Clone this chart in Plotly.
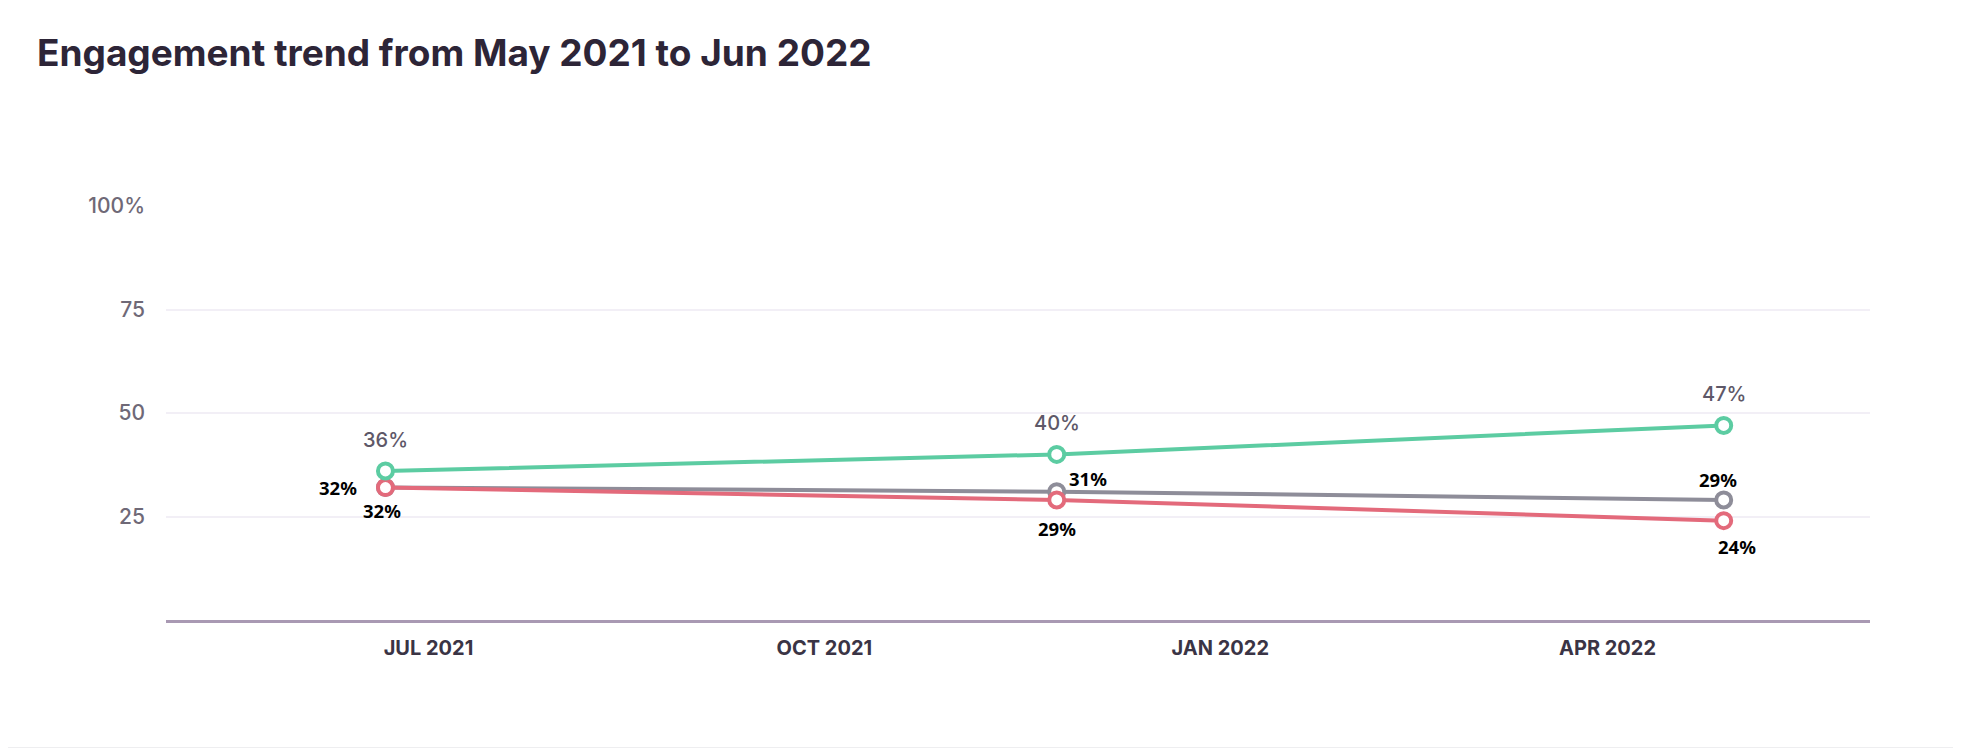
import plotly.graph_objects as go

# ---- data ----
dates = ["2021-06-21", "2021-11-24", "2022-04-28"]
green_vals = [36, 40, 47]
grey_vals = [32, 31, 29]
red_vals = [32, 29, 24]
y_tickvals = [25, 50, 75, 100]
y_ticktext = ["25", "50", "75", "100%"]
x_tickvals = ["2021-07-01", "2021-10-01", "2022-01-01", "2022-04-01"]
x_ticktext = ["JUL 2021", "OCT 2021", "JAN 2022", "APR 2022"]
title_text = "Engagement trend from May 2021 to Jun 2022"

# ---- style ----
# page body has an 8px margin, so the figure is sized to fit inside it
W, H = 1945, 740
L, R, T, B = 158, 83, 198, 128
GREEN = "#5ccca2"
GREY = "#8e8d99"
RED = "#e36a7b"

fig = go.Figure()


def add_series(vals, color, name):
    fig.add_trace(go.Scatter(
        x=dates, y=vals, mode="lines+markers", name=name,
        line=dict(color=color, width=4),
        marker=dict(symbol="circle", size=15, color="white",
                    line=dict(color=color, width=4)),
        hoverinfo="skip",
    ))


add_series(grey_vals, GREY, "grey")
add_series(red_vals, RED, "red")
add_series(green_vals, GREEN, "green")

ann = []
for d, v in zip(dates, green_vals):
    ann.append(dict(x=d, y=v, text=f"{v}%", showarrow=False, yshift=31,
                    font=dict(family="Inter", size=20, color="#5e5868", weight=500)))

black_font = dict(family="Noto Sans", size=18.5, color="#000000", weight="bold")
offsets_grey = [(-47, 0), (31, 13), (-6, 20)]
offsets_red = [(-3, -23), (0, -29), (13, -26)]
for i, (d, v) in enumerate(zip(dates, grey_vals)):
    dx, dy = offsets_grey[i]
    ann.append(dict(x=d, y=v, text=f"{v}%", showarrow=False,
                    xshift=dx, yshift=dy, font=black_font))
for i, (d, v) in enumerate(zip(dates, red_vals)):
    dx, dy = offsets_red[i]
    ann.append(dict(x=d, y=v, text=f"{v}%", showarrow=False,
                    xshift=dx, yshift=dy, font=black_font))

pw = W - L - R
ph = H - T - B
bottom_band = dict(type="rect", xref="paper", yref="paper", layer="below",
                   x0=-L / pw, x1=(W - L) / pw,
                   y0=-B / ph, y1=(-B + 1) / ph,
                   fillcolor="#eeeef0", line=dict(width=0))

fig.update_layout(
    width=W, height=H,
    margin=dict(l=L, r=R, t=T, b=B),
    paper_bgcolor="white",
    plot_bgcolor="white",
    showlegend=False,
    shapes=[bottom_band],
    annotations=ann,
    title=dict(text=title_text, xref="container", yref="container",
               x=29 / W, xanchor="left", y=1 - 32 / H, yanchor="top",
               font=dict(family="Inter", size=37, color="#2d2537", weight="bold")),
    xaxis=dict(type="date", range=["2021-05-01", "2022-06-01"],
               tickvals=x_tickvals, ticktext=x_ticktext,
               showgrid=False, zeroline=False,
               showline=True, linecolor="#a999b3", linewidth=2.5,
               ticks="", ticklabelstandoff=8,
               tickfont=dict(family="Inter", size=20, color="#3a3445", weight="bold")),
    yaxis=dict(range=[0, 100], tickvals=y_tickvals, ticktext=y_ticktext,
               showgrid=True, gridcolor="#f2eff6", gridwidth=1.5,
               zeroline=False, showline=False, ticks="",
               ticklabelstandoff=20,
               tickfont=dict(family="Inter", size=21, color="#6f6977", weight=500)),
)

fig.write_html("out.html")
